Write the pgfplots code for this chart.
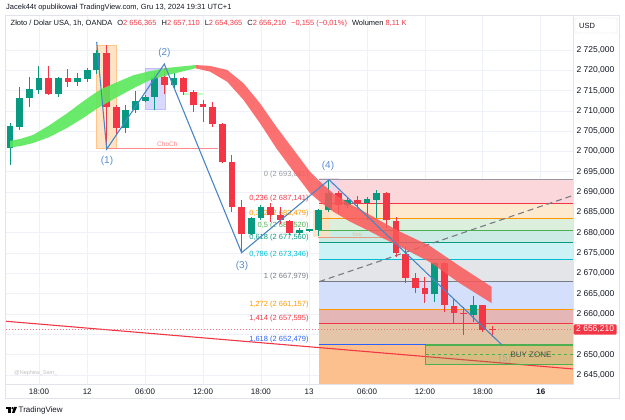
\documentclass[border=0pt]{standalone}
\usepackage{pgfplots}
\usepackage{pgfplotstable}
\pgfplotsset{compat=1.18}
\usepackage{fontspec}
\setmainfont{Liberation Sans}
\newcommand\fs[1]{\fontsize{#1}{#1}\selectfont}

\definecolor{cgreen}{HTML}{089981}
\definecolor{cred}{HTML}{F23645}
\definecolor{gridc}{HTML}{EEF1F7}
\definecolor{framec}{HTML}{E0E3EB}
\definecolor{txt}{HTML}{131722}
\definecolor{ribg}{RGB}{90,232,90}
\definecolor{ribr}{RGB}{250,88,88}
\definecolor{zz}{RGB}{74,134,198}
\definecolor{lbl}{RGB}{88,140,205}
\definecolor{fgrey}{HTML}{9598A1}
\definecolor{fgrey2}{HTML}{787B86}
\definecolor{forange}{HTML}{FF9800}
\definecolor{fgreen}{HTML}{4CAF50}
\definecolor{fteal}{HTML}{089981}
\definecolor{fcyan}{HTML}{00BCD4}
\definecolor{fblue}{HTML}{2962FF}
\definecolor{zA}{RGB}{251,214,218}
\definecolor{zB}{RGB}{253,234,206}
\definecolor{zC}{RGB}{219,239,220}
\definecolor{zD}{RGB}{204,235,228}
\definecolor{zE}{RGB}{204,242,246}
\definecolor{zF}{RGB}{228,229,232}
\definecolor{zG}{RGB}{212,223,252}
\definecolor{zH}{RGB}{228,182,182}
\definecolor{zI}{RGB}{228,197,168}
\definecolor{zJ}{RGB}{251,192,142}

% green candles: i open high low close
\pgfplotstableread{
i o h l c
0 2700.95 2707.0 2696.7 2706.37
1 2706.12 2715.97 2705.3 2713.26
2 2713.1 2718.4 2711.05 2715.3
3 2715.15 2721.1 2714.1 2718.03
5 2714.1 2718.4 2713.35 2718.0
7 2717.2 2719.4 2716.2 2718.2
8 2717.9 2720.5 2717.2 2720.1
9 2720.1 2725.0 2719.0 2724.3
12 2705.9 2711.5 2704.5 2710.2
13 2710.2 2714.9 2709.4 2712.5
14 2712.5 2713.9 2712.3 2713.5
15 2713.5 2719.66 2710.2 2718.4
17 2716.4 2719.3 2715.6 2718.0
25 2679.7 2684.0 2679.5 2683.6
26 2683.6 2686.8 2683.2 2686.4
30 2679.9 2681.1 2679.4 2680.7
31 2680.7 2681.0 2680.3 2680.8
32 2680.7 2685.8 2679.2 2685.6
33 2685.6 2693.06 2685.1 2689.9
35 2686.8 2688.9 2686.0 2688.1
37 2687.3 2688.9 2683.2 2688.3
38 2688.1 2690.5 2683.6 2689.7
44 2664.9 2672.9 2663.05 2672.5
48 2659.8 2664.4 2658.1 2662.2
}\up

% red candles
\pgfplotstableread{
i o h l c
4 2718.03 2721.1 2713.9 2714.1
6 2718.0 2720.25 2715.97 2717.2
10 2724.3 2726.2 2700.8 2711.05
11 2711.05 2711.5 2704.1 2705.9
16 2718.4 2720.5 2714.3 2716.4
18 2718.0 2718.4 2713.9 2714.6
19 2714.6 2715.2 2709.8 2711.5
20 2711.7 2712.7 2707.4 2710.9
21 2710.9 2712.3 2706.1 2706.7
22 2706.8 2707.0 2697.1 2697.5
23 2697.4 2699.2 2685.2 2686.4
24 2686.4 2688.1 2675.2 2679.7
27 2686.4 2687.3 2682.7 2684.3
28 2684.3 2686.4 2682.3 2683.1
29 2683.0 2683.1 2679.5 2679.9
34 2689.9 2690.2 2684.9 2686.8
36 2688.1 2689.0 2685.6 2687.3
39 2689.7 2690.1 2681.1 2683.1
40 2683.0 2684.0 2674.1 2675.0
41 2674.8 2676.6 2667.6 2668.8
42 2669.0 2670.0 2665.1 2666.5
43 2666.5 2669.2 2662.65 2664.9
45 2672.5 2672.9 2660.6 2662.2
46 2662.0 2663.6 2657.7 2660.2
47 2660.35 2661.8 2654.85 2659.95
49 2662.2 2662.3 2655.7 2656.1
50 2656.365 2657.11 2654.365 2656.21
}\down

\begin{document}
\begin{tikzpicture}
\path (0pt,0pt) rectangle (625pt,420pt);
\begin{axis}[
  at={(5pt,36pt)}, anchor=south west, scale only axis,
  width=568pt, height=369pt,
  xmin=-0.52, xmax=58.34, ymin=2642.78, ymax=2733.62,
  axis line style={draw=framec, line width=0.8pt},
  xtick={3,8,14,20,26,31,37,43,49,55},
  xticklabels={18:00,12,06:00,12:00,18:00,13,06:00,12:00,18:00,\textbf{16}},
  ytick={2645,2650,...,2725},
  yticklabels={{2~645,000},{2~650,000},{},{2~660,000},{2~665,000},{2~670,000},{2~675,000},{2~680,000},{2~685,000},{2~690,000},{2~695,000},{2~700,000},{2~705,000},{2~710,000},{2~715,000},{2~720,000},{2~725,000}},
  yticklabel pos=right,
  major tick length=0pt,
  xmajorgrids, ymajorgrids,
  major grid style={draw=gridc, line width=0.8pt},
  tick label style={font=\fs{8.5}, text=txt},
  xticklabel style={font=\fs{8}, yshift=-1pt},
]
% ---- Fibonacci fills
\addplot[draw=none, fill=zA] coordinates {(32.05,2693.061) (60,2693.061) (60,2687.141) (32.05,2687.141)};
\addplot[draw=none, fill=zB] coordinates {(32.05,2687.141) (60,2687.141) (60,2683.479) (32.05,2683.479)};
\addplot[draw=none, fill=zC] coordinates {(32.05,2683.479) (60,2683.479) (60,2680.520) (32.05,2680.520)};
\addplot[draw=none, fill=zD] coordinates {(32.05,2680.520) (60,2680.520) (60,2677.560) (32.05,2677.560)};
\addplot[draw=none, fill=zE] coordinates {(32.05,2677.560) (60,2677.560) (60,2673.346) (32.05,2673.346)};
\addplot[draw=none, fill=zF] coordinates {(32.05,2673.346) (60,2673.346) (60,2667.979) (32.05,2667.979)};
\addplot[draw=none, fill=zG] coordinates {(32.05,2667.979) (60,2667.979) (60,2661.157) (32.05,2661.157)};
\addplot[draw=none, fill=zH] coordinates {(32.05,2661.157) (60,2661.157) (60,2657.595) (32.05,2657.595)};
\addplot[draw=none, fill=zI] coordinates {(32.05,2657.595) (60,2657.595) (60,2652.479) (32.05,2652.479)};
\addplot[draw=none, fill=zJ] coordinates {(32.05,2652.479) (60,2652.479) (60,2640) (32.05,2640)};
% ---- swing boxes
\addplot[draw=orange!45, fill=orange!22] coordinates {(8.98,2726.2) (11.05,2726.2) (11.05,2700.8) (8.98,2700.8) (8.98,2726.2)};
\addplot[draw=blue!25, fill=blue!15] coordinates {(14.06,2720.5) (16.06,2720.5) (16.06,2710.5) (14.06,2710.5) (14.06,2720.5)};
\addplot[draw=none, fill=violet!15, fill opacity=0.8] coordinates {(32.05,2693.4) (34.1,2693.4) (34.1,2689.9) (32.05,2689.9)};
\addplot[draw=none, fill=orange!25, fill opacity=0.8] coordinates {(31.4,2685.6) (33.2,2685.6) (33.2,2678.9) (31.4,2678.9)};
% ---- fib lines
\addplot[fgrey, line width=1.2pt] coordinates {(32.05,2693.061) (60,2693.061)};
\addplot[cred, line width=1.2pt] coordinates {(32.05,2687.141) (60,2687.141)};
\addplot[forange, line width=1.2pt] coordinates {(32.05,2683.479) (60,2683.479)};
\addplot[fgreen, line width=1.2pt] coordinates {(32.05,2680.520) (60,2680.520)};
\addplot[fteal, line width=1.2pt] coordinates {(32.05,2677.560) (60,2677.560)};
\addplot[fcyan, line width=1.2pt] coordinates {(32.05,2673.346) (60,2673.346)};
\addplot[fgrey2, line width=1.2pt] coordinates {(32.05,2667.979) (60,2667.979)};
\addplot[forange, line width=1.2pt] coordinates {(32.05,2661.157) (60,2661.157)};
\addplot[cred, line width=1.2pt] coordinates {(32.05,2657.595) (60,2657.595)};
\addplot[fblue, line width=1.2pt] coordinates {(32.05,2652.479) (60,2652.479)};
% fib labels
\node[anchor=base east, yshift=3pt, font=\fs{7.5}, text=fgrey] at (axis cs:31.3,2693.061) {0 (2~693,061)};
\node[anchor=base east, yshift=3pt, font=\fs{7.5}, text=cred] at (axis cs:31.3,2687.141) {0,236 (2~687,141)};
\node[anchor=base east, yshift=3pt, font=\fs{7.5}, text=forange] at (axis cs:31.3,2683.479) {0,382 (2~683,479)};
\node[anchor=base east, yshift=3pt, font=\fs{7.5}, text=fgreen] at (axis cs:31.3,2680.520) {0,5 (2~680,520)};
\node[anchor=base east, yshift=3pt, font=\fs{7.5}, text=fteal] at (axis cs:31.3,2677.560) {0,618 (2~677,560)};
\node[anchor=base east, yshift=3pt, font=\fs{7.5}, text=fcyan] at (axis cs:31.3,2673.346) {0,786 (2~673,346)};
\node[anchor=base east, yshift=3pt, font=\fs{7.5}, text=fgrey2] at (axis cs:31.3,2667.979) {1 (2~667,979)};
\node[anchor=base east, yshift=3pt, font=\fs{7.5}, text=forange] at (axis cs:31.3,2661.157) {1,272 (2~661,157)};
\node[anchor=base east, yshift=3pt, font=\fs{7.5}, text=cred] at (axis cs:31.3,2657.595) {1,414 (2~657,595)};
\node[anchor=base east, yshift=3pt, font=\fs{7.5}, text=fblue] at (axis cs:31.3,2652.479) {1,618 (2~652,479)};
% ---- structure lines
\addplot[red!45, line width=0.8pt] coordinates {(10.02,2700.8) (21.6,2700.8)};
\node[font=\fs{6.5}, text=red!50] at (axis cs:16.3,2701.7) {ChoCh};
\addplot[green!25!white, line width=2pt] coordinates {(18.0,2714.1) (20.0,2714.1)};
\addplot[red!30!brown!60, line width=0.8pt] coordinates {(31.9,2678.9) (39.9,2678.9)};
\node[font=\fs{5.8}, text=brown!50] at (axis cs:36.0,2679.7) {bos};
% trend lines
\addplot[cred, line width=1.1pt] coordinates {(-1,2658.34) (59,2646.35)};
\addplot[fgrey2, line width=1.1pt, dash pattern=on 6pt off 4pt] coordinates {(32.05,2667.98) (58.34,2689.2)};
\addplot[cred!70, line width=0.7pt, dash pattern=on 1pt off 2pt] coordinates {(-1,2656.21) (59,2656.21)};
% buy zone
\addplot[draw=fgreen, line width=1.1pt, fill=fgreen, fill opacity=0.2] coordinates {(43.08,2652.38) (60,2652.38) (60,2647.63) (43.08,2647.63) (43.08,2652.38)};
\addplot[fgreen, line width=0.9pt, dash pattern=on 3pt off 3pt] coordinates {(43.08,2650.0) (60,2650.0)};
% ---- candles: wicks
\addplot[draw=none, mark=none, forget plot, error bars/.cd, y dir=both, y explicit, error mark=none,
  error bar style={draw=cgreen, line width=1pt}]
  table[x=i, y expr=(\thisrow{h}+\thisrow{l})/2, y error expr=(\thisrow{h}-\thisrow{l})/2] {\up};
\addplot[draw=none, mark=none, forget plot, error bars/.cd, y dir=both, y explicit, error mark=none,
  error bar style={draw=cred, line width=1pt}]
  table[x=i, y expr=(\thisrow{h}+\thisrow{l})/2, y error expr=(\thisrow{h}-\thisrow{l})/2] {\down};
% bodies
\addplot[draw=none, mark=none, forget plot, error bars/.cd, y dir=both, y explicit, error mark=none,
  error bar style={draw=cgreen, line width=6.8pt}]
  table[x=i, y expr=(\thisrow{o}+\thisrow{c})/2, y error expr={max(abs(\thisrow{c}-\thisrow{o})/2,0.13)}] {\up};
\addplot[draw=none, mark=none, forget plot, error bars/.cd, y dir=both, y explicit, error mark=none,
  error bar style={draw=cred, line width=6.8pt}]
  table[x=i, y expr=(\thisrow{o}+\thisrow{c})/2, y error expr={max(abs(\thisrow{c}-\thisrow{o})/2,0.13)}] {\down};
% ---- ribbon (upper edge then lower edge back)
\addplot[fill=ribg, draw=none, fill opacity=0.9] coordinates {
 (0,2702.6) (1.2,2703.2) (2.4,2704.1) (4.1,2706.5) (5.9,2709.4) (7.6,2712.4) (9.3,2715.2) (11.1,2717.1) (12.8,2718.8) (14.5,2719.8) (16.3,2720.6) (19.2,2721.3)
 (19.2,2720.5) (16.3,2718.8) (14.5,2717.6) (12.8,2715.6) (11.1,2713.4) (9.3,2711.0) (7.6,2708.3) (5.9,2705.8) (4.1,2703.6) (2.4,2702.1) (1.2,2701.4) (0,2701.0)};
\addplot[fill=ribr, draw=none, fill opacity=0.85] coordinates {
 (19.2,2721.3) (20.7,2721.1) (22.5,2720.1) (24.2,2716.8) (25.9,2711.9) (27.6,2706.1) (29.4,2700.4) (31.1,2695.0) (32.3,2692.2) (33.5,2689.7) (35.2,2687.1) (37.0,2684.8) (38.7,2682.5) (40.4,2680.3) (43.5,2676.8) (46.6,2671.8) (49.9,2666.7)
 (49.9,2662.7) (46.6,2667.6) (43.5,2672.8) (40.4,2676.6) (38.7,2678.6) (37.0,2680.7) (35.2,2682.8) (33.5,2685.2) (32.3,2687.3) (31.1,2689.7) (29.4,2695.0) (27.6,2700.8) (25.9,2707.0) (24.2,2712.7) (22.5,2717.2) (20.7,2719.7) (19.2,2720.5)};
% ---- zigzag
\addplot[zz, line width=1.1pt] coordinates {(8.98,2727.0) (10.02,2700.6) (15.99,2721.55) (24.0,2675.1) (33.06,2693.06) (50.98,2652.4)};
\node[font=\fs{10}, text=lbl] at (axis cs:10.05,2697.6) {(1)};
\node[font=\fs{10}, text=lbl] at (axis cs:16.0,2724.3) {(2)};
\node[font=\fs{10}, text=lbl] at (axis cs:24.04,2671.8) {(3)};
\node[font=\fs{10}, text=lbl] at (axis cs:32.95,2696.4) {(4)};
\node[font=\fs{10}, text=lbl, opacity=0.35] at (axis cs:51.3,2649.0) {(5)};
\node[anchor=west, font=\fs{8}, text=black!70] at (axis cs:51.5,2650.0) {BUY ZONE};
\end{axis}
% ---- chrome
\draw[framec, line width=0.8pt] (5pt,22pt) rectangle (619pt,405pt);
\node[anchor=west, inner sep=0pt, font=\fs{7.5}, text=txt] at (6pt,412pt) {Jacek44t opublikował TradingView.com, Gru 13, 2024 19:31 UTC+1};
\node[anchor=west, inner sep=0pt, font=\fs{7.5}, text=txt] at (10.5pt,396pt) {Złoto / Dolar USA, 1h, OANDA\hspace{5pt}O\textcolor{cred}{2~656,365}\hspace{5pt}H\textcolor{cred}{2~657,110}\hspace{5pt}L\textcolor{cred}{2~654,365}\hspace{5pt}C\textcolor{cred}{2~656,210}\hspace{5pt}\textcolor{cred}{−0,155 (−0,01\%)}\hspace{5pt}Wolumen\hspace{2pt}\textcolor{cred}{8,11 K}};
\draw[framec, fill=white, rounded corners=2pt] (575pt,387pt) rectangle (617pt,402pt);
\node[anchor=west, inner sep=0pt, font=\fs{7.5}, text=txt] at (579pt,394.5pt) {USD};
\node[fill=cred, text=white, font=\fs{8.5}, inner xsep=2.5pt, inner ysep=1.5pt, anchor=west, rounded corners=1pt] at (573.5pt,90.5pt) {2~656,210};
\node[anchor=west, inner sep=0pt, font=\fs{5.5}, text=black!25] at (14pt,47pt) {@Nephew\_Sam\_};
\fill[black] (6pt,10.5pt) rectangle (11pt,13pt);
\fill[black] (8pt,7pt) rectangle (10.5pt,13pt);
\fill[black] (12.5pt,11.8pt) circle (1.2pt);
\fill[black] (14pt,13pt) -- (17pt,13pt) -- (14.5pt,7pt) -- (12pt,7pt) -- cycle;
\node[anchor=west, inner sep=0pt, font=\fs{8}, text=txt] at (18.5pt,10pt) {TradingView};
\end{tikzpicture}
\end{document}
